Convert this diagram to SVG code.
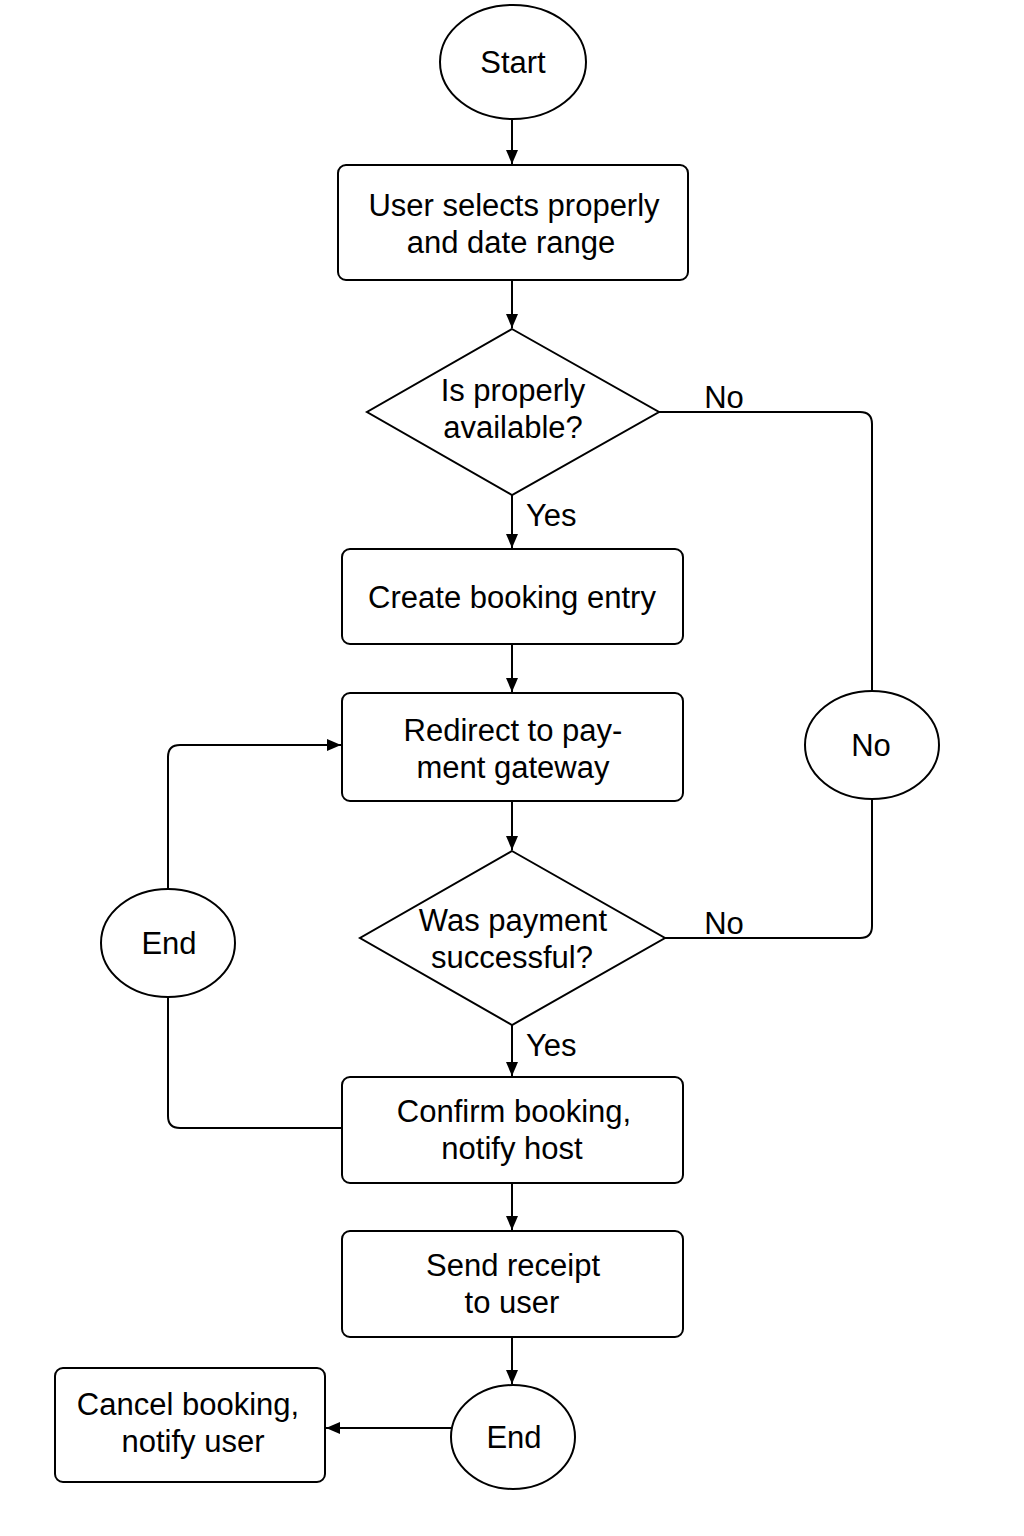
<svg xmlns="http://www.w3.org/2000/svg" width="1024" height="1536" viewBox="0 0 1024 1536">
<defs>
<marker id="arr" viewBox="0 0 14 12" refX="14" refY="6" markerWidth="14" markerHeight="12" markerUnits="userSpaceOnUse" orient="auto">
<path d="M0,0 L14,6 L0,12 Z" fill="#000"/>
</marker>
<style>
.s{fill:#fff;stroke:#000;stroke-width:2}
.c{fill:none;stroke:#000;stroke-width:2}
text{font-family:"Liberation Sans",Arial,sans-serif;font-size:31px;fill:#000;text-anchor:middle}
.l{text-anchor:start}
</style>
</defs>
<rect width="1024" height="1536" fill="#fff"/>
<g id="connectors">
<path class="c" d="M512,120 V164" marker-end="url(#arr)"/>
<path class="c" d="M512,281 V328" marker-end="url(#arr)"/>
<path class="c" d="M512,495 V548" marker-end="url(#arr)"/>
<path class="c" d="M512,645 V692" marker-end="url(#arr)"/>
<path class="c" d="M512,802 V850" marker-end="url(#arr)"/>
<path class="c" d="M512,1025 V1076" marker-end="url(#arr)"/>
<path class="c" d="M512,1184 V1230" marker-end="url(#arr)"/>
<path class="c" d="M512,1338 V1384" marker-end="url(#arr)"/>
<path class="c" d="M451,1428 H326" marker-end="url(#arr)"/>
<path class="c" d="M659,412 H860 Q872,412 872,424 V691"/>
<path class="c" d="M872,799 V926 Q872,938 860,938 H665"/>
<path class="c" d="M342,1128 H180 Q168,1128 168,1116 V997"/>
<path class="c" d="M168,889 V757 Q168,745 180,745 H341" marker-end="url(#arr)"/>
<text x="724" y="408">No</text>
<text x="724" y="934">No</text>
<text class="l" x="526" y="526">Yes</text>
<text class="l" x="526" y="1056">Yes</text>
</g>
<g id="start">
<ellipse class="s" cx="513" cy="62" rx="73" ry="57"/>
<text x="513" y="73">Start</text>
</g>
<g id="select">
<rect class="s" x="338" y="165" width="350" height="115" rx="8"/>
<text x="514" y="216">User selects properly</text>
<text x="511" y="253">and date range</text>
</g>
<g id="available">
<polygon class="s" points="512,329 659,412 512,495 367,412"/>
<text x="513" y="401">Is properly</text>
<text x="513" y="438">available?</text>
</g>
<g id="create">
<rect class="s" x="342" y="549" width="341" height="95" rx="8"/>
<text x="512" y="608">Create booking entry</text>
</g>
<g id="redirect">
<rect class="s" x="342" y="693" width="341" height="108" rx="8"/>
<text x="513" y="741">Redirect to pay-</text>
<text x="513" y="778">ment gateway</text>
</g>
<g id="payment">
<polygon class="s" points="512,851 665,938 512,1025 360,938"/>
<text x="513" y="931">Was payment</text>
<text x="512" y="968">successful?</text>
</g>
<g id="no-node">
<ellipse class="s" cx="872" cy="745" rx="67" ry="54"/>
<text x="871" y="756">No</text>
</g>
<g id="end-left">
<ellipse class="s" cx="168" cy="943" rx="67" ry="54"/>
<text x="169" y="954">End</text>
</g>
<g id="confirm">
<rect class="s" x="342" y="1077" width="341" height="106" rx="8"/>
<text x="514" y="1122">Confirm booking,</text>
<text x="512" y="1159">notify host</text>
</g>
<g id="receipt">
<rect class="s" x="342" y="1231" width="341" height="106" rx="8"/>
<text x="513" y="1276">Send receipt</text>
<text x="512" y="1313">to user</text>
</g>
<g id="end-bottom">
<ellipse class="s" cx="513" cy="1437" rx="62" ry="52"/>
<text x="514" y="1448">End</text>
</g>
<g id="cancel">
<rect class="s" x="55" y="1368" width="270" height="114" rx="8"/>
<text x="188" y="1415">Cancel booking,</text>
<text x="193" y="1452">notify user</text>
</g>
</svg>
